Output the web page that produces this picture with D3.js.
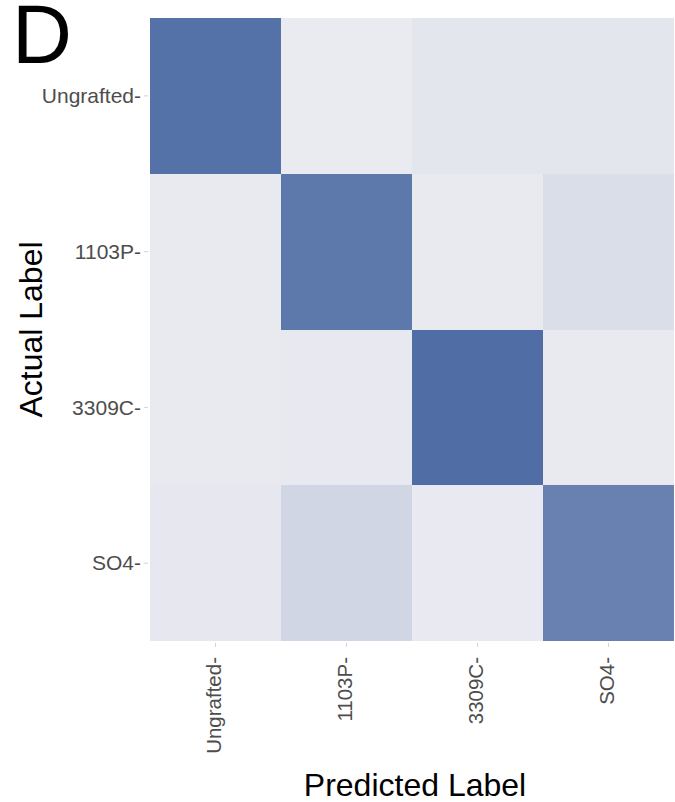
<!DOCTYPE html>
<html>
<head>
<meta charset="utf-8">
<script src="https://cdn.jsdelivr.net/npm/d3@7"></script>
<style>
  html, body { margin: 0; padding: 0; background: #fff; }
  svg { display: block; }
  text { font-family: "Liberation Sans", Arial, Helvetica, sans-serif; }
</style>
</head>
<body>
<div id="chart"></div>
<script>
// Confusion matrix: rows = actual class, columns = predicted class (row proportions)
const classes = ["Ungrafted", "1103P", "3309C", "SO4"];
const actualUngrafted = [0.93, 0.00, 0.035, 0.035];
const actual1103P     = [0.01, 0.88, 0.01, 0.10];
const actual3309C     = [0.01, 0.015, 0.965, 0.01];
const actualSO4       = [0.02, 0.16, 0.005, 0.815];
const matrixRows = [actualUngrafted, actual1103P, actual3309C, actualSO4];

const W = 675, H = 802;
const margin = { left: 150, right: 1, top: 18, bottom: 161 };

const svg = d3.select("#chart").append("svg")
  .attr("width", W).attr("height", H);

const x = d3.scaleBand().domain(classes)
  .range([margin.left, W - margin.right]).padding(0);
const y = d3.scaleBand().domain(classes)
  .range([margin.top, H - margin.bottom]).padding(0);

const color = d3.scaleLinear().domain([0, 1])
  .range(["#EAEBF1", "#4A69A2"])
  .interpolate(d3.interpolateRgb);

const cells = [];
matrixRows.forEach((row, i) => {
  row.forEach((v, j) => cells.push({ actual: classes[i], predicted: classes[j], value: v }));
});

svg.append("g").selectAll("rect")
  .data(cells).join("rect")
  .attr("x", d => x(d.predicted))
  .attr("y", d => y(d.actual))
  .attr("width", x.bandwidth())
  .attr("height", y.bandwidth())
  .attr("fill", d => color(d.value))
  .attr("shape-rendering", "crispEdges");

// Y axis: labels with trailing dash plus short tick
const yAxis = svg.append("g");
classes.forEach(c => {
  const cy = y(c) + y.bandwidth() / 2;
  yAxis.append("line")
    .attr("x1", margin.left - 6).attr("x2", margin.left - 2)
    .attr("y1", cy).attr("y2", cy)
    .attr("stroke", "#d4d4d4").attr("stroke-width", 1);
  yAxis.append("text")
    .attr("x", margin.left - 9).attr("y", cy)
    .attr("dy", "0.35em")
    .attr("text-anchor", "end")
    .attr("font-size", 21)
    .attr("fill", "#4d4d4d")
    .text(c + "-");
});

// X axis: rotated labels
const xAxis = svg.append("g");
classes.forEach(c => {
  const cx = x(c) + x.bandwidth() / 2;
  const top = H - margin.bottom;
  xAxis.append("line")
    .attr("x1", cx).attr("x2", cx)
    .attr("y1", top + 2).attr("y2", top + 6)
    .attr("stroke", "#d4d4d4").attr("stroke-width", 1);
  xAxis.append("text")
    .attr("transform", `translate(${cx},${top + 16}) rotate(-90)`)
    .attr("dy", "0.28em")
    .attr("text-anchor", "end")
    .attr("font-size", 20.5)
    .attr("fill", "#4d4d4d")
    .text(c + "-");
});

// Axis titles
svg.append("text")
  .attr("x", 415)
  .attr("y", 796)
  .attr("text-anchor", "middle")
  .attr("font-size", 32)
  .attr("fill", "#000")
  .text("Predicted Label");

svg.append("text")
  .attr("transform", `translate(42,${(margin.top + H - margin.bottom) / 2}) rotate(-90)`)
  .attr("text-anchor", "middle")
  .attr("font-size", 32)
  .attr("fill", "#000")
  .text("Actual Label");

// Panel tag
svg.append("text")
  .attr("x", 12).attr("y", 63)
  .attr("font-size", 83)
  .attr("fill", "#000")
  .text("D");
</script>
</body>
</html>
